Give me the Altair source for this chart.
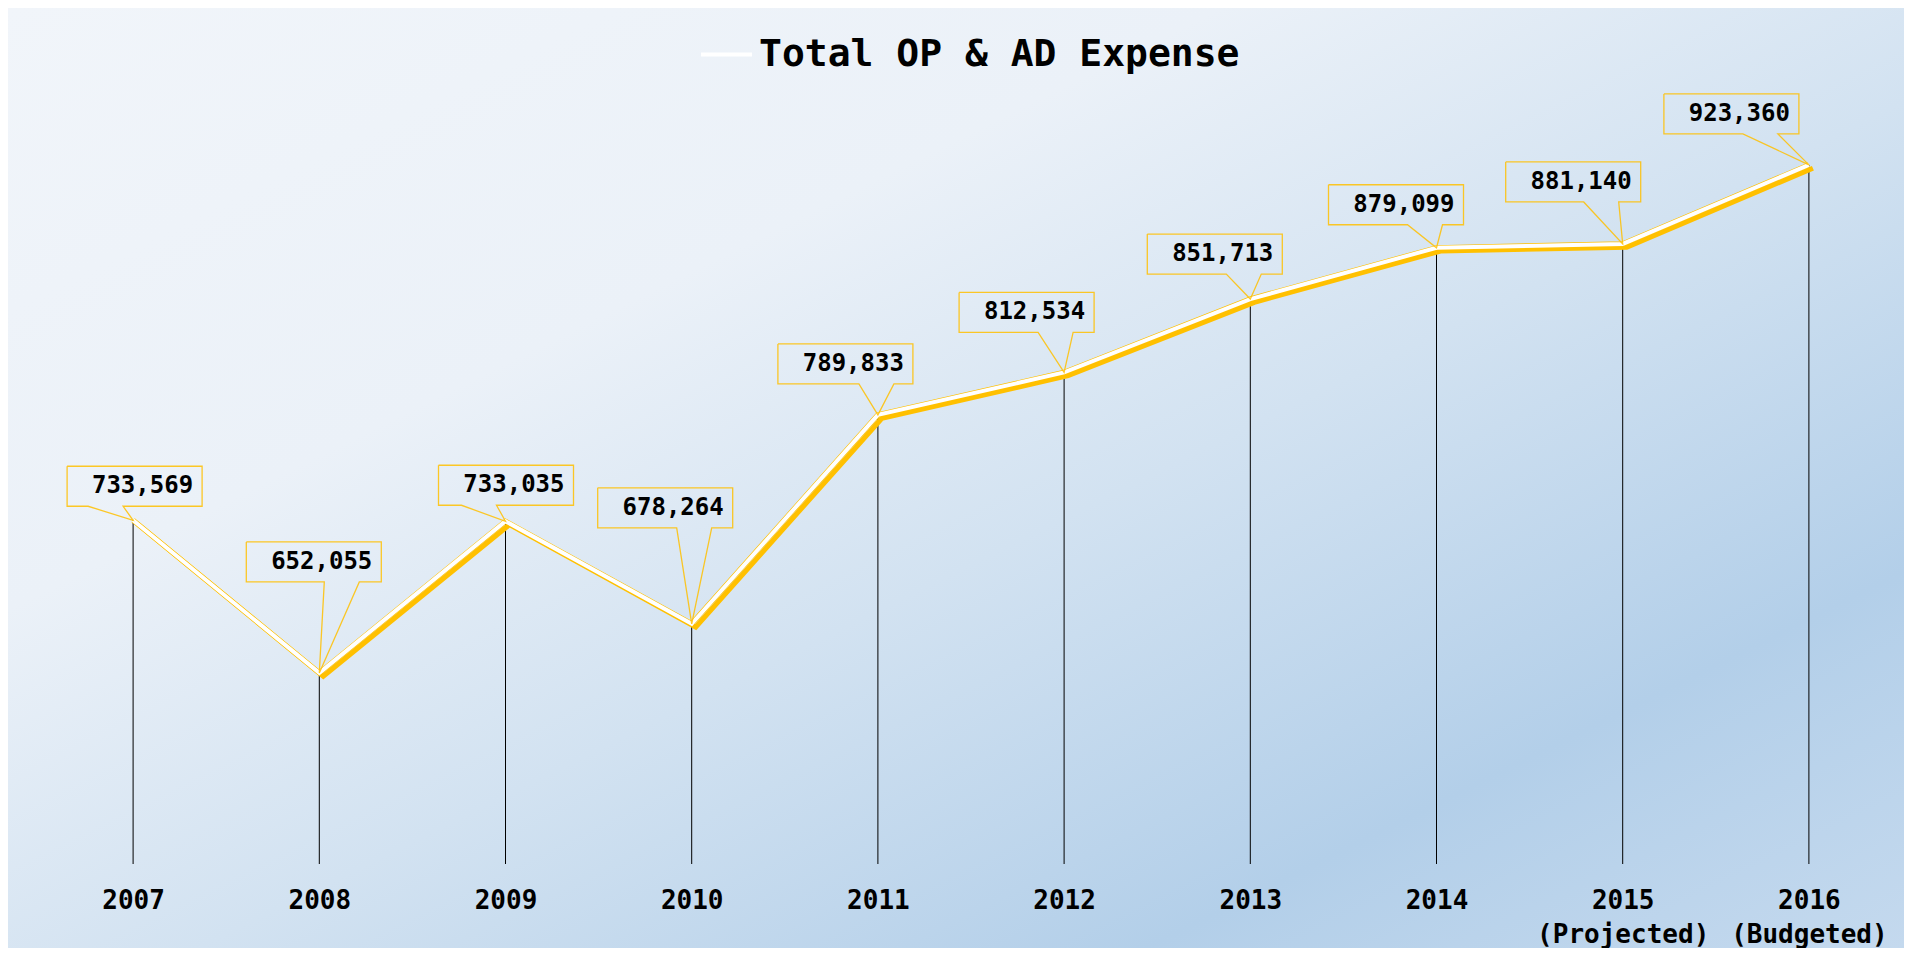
import altair as alt
import pandas as pd

# ---------------- data ----------------
YEARS = [2007, 2008, 2009, 2010, 2011, 2012, 2013, 2014, 2015, 2016]
VALUES = [733569, 652055, 733035, 678264, 789833, 812534, 851713, 879099, 881140, 923360]
SUBLABELS = {2015: "(Projected)", 2016: "(Budgeted)"}
SERIES = "Total OP & AD Expense"

# ---------------- layout (pixels) ----------------
# callout box: left edge relative to the point, gap box-bottom -> point, pointer base start
LABEL_DX = [-66, -73, -67, -94, -100, -105, -103, -108, -117, -145]
LABEL_GAP = [14, 91, 16, 96, 31, 40, 25, 23, 42, 31]
POINTER_AT = [21, 78, 23, 79, 81, 79, 79, 79, 78, 79]
BOX_W, BOX_H, POINTER_W, TEXT_PAD = 135, 40, 35, 9

W, H = 1862, 749
X_DOMAIN = [2006.5, 2016.5]
Y_DOMAIN = [550000, 950000]
PX_X = W / (X_DOMAIN[1] - X_DOMAIN[0])
PX_Y = H / (Y_DOMAIN[1] - Y_DOMAIN[0])

PAD = {"left": 32, "top": 107, "right": 2, "bottom": 84}
FONT = "DejaVu Sans Mono"
YELLOW = "#FFC000"

df = pd.DataFrame({"year": YEARS, "value": VALUES, "series": SERIES})

# callout outlines and label anchors (in data units)
poly, texts = [], []
for i, (yr, v) in enumerate(zip(YEARS, VALUES)):
    xl = yr + LABEL_DX[i] / PX_X
    xr = xl + BOX_W / PX_X
    yb = v + LABEL_GAP[i] / PX_Y
    yt = yb + BOX_H / PX_Y
    p1 = xl + POINTER_AT[i] / PX_X
    p2 = p1 + POINTER_W / PX_X
    verts = [(xl, yt), (xr, yt), (xr, yb), (p2, yb), (yr, v), (p1, yb), (xl, yb), (xl, yt)]
    for k, (px, py) in enumerate(verts):
        poly.append({"year": yr, "k": k, "cx": px, "cy": py})
    texts.append({"year": yr, "value": v, "tx": xr - TEXT_PAD / PX_X, "ty": (yb + yt) / 2})
poly_df = pd.DataFrame(poly)
text_df = pd.DataFrame(texts)

xscale = alt.Scale(domain=X_DOMAIN, nice=False, zero=False)
yscale = alt.Scale(domain=Y_DOMAIN, nice=False, zero=False)

label_expr = "datum.label"
for yr, sub in SUBLABELS.items():
    label_expr = f"datum.value == {yr} ? ['{yr}', '{sub}'] : ({label_expr})"

xaxis = alt.Axis(
    values=YEARS, format="d", labelExpr=label_expr, domain=False, ticks=False, grid=False,
    labelFont=FONT, labelFontWeight="bold", labelFontSize=26, labelColor="black",
    labelPadding=23, labelLineHeight=34, title=None, labelFlush=False, labelOverlap=False,
    labelBound=False, zindex=1,
)

X = alt.X("year:Q", scale=xscale, axis=xaxis)
Y = alt.Y("value:Q", scale=yscale, axis=None)

bg = alt.Chart(alt.Data(values=[{"a": 1}])).mark_rect(
    fill=alt.Gradient(
        gradient="linear", x1=0, y1=0, x2=1, y2=1,
        stops=[
            alt.GradientStop(offset=0, color="#f1f5fa"),
            alt.GradientStop(offset=0.32, color="#ebf1f8"),
            alt.GradientStop(offset=0.55, color="#d2e2f1"),
            alt.GradientStop(offset=0.8, color="#b3cfe9"),
            alt.GradientStop(offset=1, color="#c4d9ee"),
        ],
    )
).encode(
    x=alt.value(-PAD["left"]), x2=alt.value(W + PAD["right"]),
    y=alt.value(-PAD["top"]), y2=alt.value(H + PAD["bottom"]),
)

base = alt.Chart(df)

drops = base.mark_rule(color="black", strokeWidth=1).encode(
    x=X, y=Y, y2=alt.datum(Y_DOMAIN[0])
)

shadow = base.mark_line(color=YELLOW, strokeWidth=5, xOffset=4, yOffset=3.3).encode(x=X, y=Y)
edge = base.mark_line(color=YELLOW, strokeWidth=5.2).encode(x=X, y=Y)
white = base.mark_line(strokeWidth=4).encode(
    x=X, y=Y,
    color=alt.Color(
        "series:N",
        scale=alt.Scale(domain=[SERIES], range=["#ffffff"]),
        legend=alt.Legend(
            orient="none", legendX=659, legendY=-88, title=None, padding=0,
            symbolType="stroke", symbolSize=2601, symbolStrokeWidth=4,
            labelFont=FONT, labelFontWeight="bold", labelFontSize=38,
            labelColor="black", labelLimit=0, labelOffset=5, zindex=1,
        ),
    ),
)

callouts = alt.Chart(poly_df).mark_line(
    color=YELLOW, strokeWidth=1.3, strokeJoin="miter", opacity=0.85
).encode(
    x=alt.X("cx:Q", scale=xscale),
    y=alt.Y("cy:Q", scale=yscale),
    detail="year:N",
    order="k:Q",
)

labels = alt.Chart(text_df).mark_text(
    align="right", baseline="middle", font=FONT, fontWeight="bold", fontSize=24, color="black"
).encode(
    x=alt.X("tx:Q", scale=xscale),
    y=alt.Y("ty:Q", scale=yscale),
    text=alt.Text("value:Q", format=","),
)

chart = alt.layer(bg, drops, shadow, edge, white, callouts, labels).properties(
    width=W, height=H,
    autosize=alt.AutoSizeParams(type="none"),
    padding=PAD,
).configure_view(stroke=None)

chart.save("out.html", embed_options={"renderer": "svg", "actions": False})
